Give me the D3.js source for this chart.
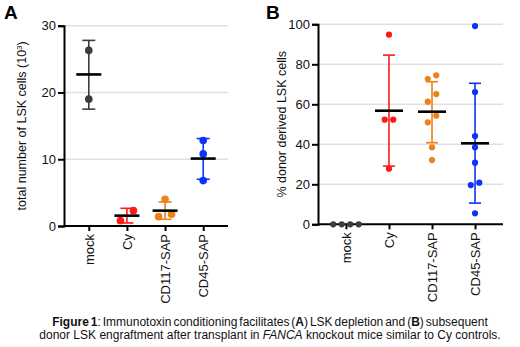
<!DOCTYPE html>
<html>
<head>
<meta charset="utf-8">
<script src="https://cdn.jsdelivr.net/npm/d3@7"></script>
<style>
  body { margin: 0; background: #fff; }
  svg { display: block; font-family: "Liberation Sans", Arial, sans-serif; }
</style>
</head>
<body>
<div id="chart"></div>
<script>
// groups on both panels
const groups = ["mock", "Cy", "CD117-SAP", "CD45-SAP"];
const colors = ["#3d3d3d", "#ff1a1a", "#ee8118", "#0d33f8"];

// panel A: total LSK cells (10^3)
const lskValues = [[26.3, 19.0], [0.8, 2.3], [1.4, 1.75, 4.0], [12.8, 10.8, 6.8]];
const lskMean = [22.7, 1.55, 2.3, 10.1];
const lskLow = [17.5, 0.45, 1.0, 7.0];
const lskHigh = [27.8, 2.65, 3.6, 13.1];
const lskTicks = [0, 10, 20, 30];

// panel B: % donor derived LSK cells
const donorValues = [
  [0, 0, 0, 0],
  [94.8, 52.3, 52.3, 27.8],
  [74.5, 72.6, 65.1, 61.3, 54.3, 51.0, 38.5, 32.1],
  [99.1, 66.1, 44.1, 38.5, 30.8, 20.8, 19.6, 5.5]
];
const donorMean = [null, 56.8, 56.3, 40.5];
const donorLow = [null, 29.1, 40.8, 10.6];
const donorHigh = [null, 84.6, 71.3, 70.5];
const donorTicks = [0, 20, 40, 60, 80, 100];

const W = 520, H = 347;
const svg = d3.select("#chart").append("svg")
  .attr("width", W).attr("height", H)
  .attr("viewBox", `0 0 ${W} ${H}`);

function drawPanel(p) {
  const g = svg.append("g");
  const x = d3.scalePoint().domain(groups).range([p.left, p.right]).padding(0.65);
  const y = d3.scaleLinear().domain([0, p.max]).range([p.bottom, p.top]);

  // grid
  g.selectAll(".grid").data(p.ticks.filter(t => t > 0)).enter().append("line")
    .attr("x1", p.left).attr("x2", p.right)
    .attr("y1", d => y(d)).attr("y2", d => y(d))
    .attr("stroke", "#e0e0e0").attr("stroke-width", 1.5);

  const yAxis = g.append("g")
    .attr("transform", `translate(${p.left},0)`)
    .call(d3.axisLeft(y).tickValues(p.ticks).tickSize(6).tickPadding(2));
  const xAxis = g.append("g")
    .attr("transform", `translate(0,${p.bottom})`)
    .call(d3.axisBottom(x).tickSize(5).tickPadding(3));
  xAxis.select(".domain").attr("d", `M${p.left},0H${p.right}`);
  [yAxis, xAxis].forEach(a => {
    a.selectAll(".domain, line").attr("stroke", "#000").attr("stroke-width", 2);
    a.selectAll("text").attr("fill", "#111").style("font-size", "13px")
      .style("font-family", "'Liberation Sans', Arial, sans-serif");
  });
  xAxis.selectAll("text")
    .attr("transform", "rotate(-90)")
    .attr("text-anchor", "end")
    .attr("x", -8).attr("y", 0).attr("dy", "0.35em");

  // y title
  g.append("text")
    .attr("transform", `translate(${p.titleX},${(p.top + p.bottom) / 2}) rotate(-90)`)
    .attr("text-anchor", "middle")
    .style("font-size", "12.5px").attr("fill", "#111")
    .html(p.title);

  // panel letter
  g.append("text").attr("x", p.letterX).attr("y", 19)
    .style("font-size", "19px").style("font-weight", "bold").text(p.letter);

  // error bars and means
  groups.forEach((grp, i) => {
    if (p.mean[i] == null) return;
    const cx = x(grp), c = colors[i];
    g.append("line").attr("x1", cx).attr("x2", cx)
      .attr("y1", y(p.low[i])).attr("y2", y(p.high[i]))
      .attr("stroke", c).attr("stroke-width", 1.6);
    [p.low[i], p.high[i]].forEach(v => {
      g.append("line").attr("x1", cx - p.cap).attr("x2", cx + p.cap)
        .attr("y1", y(v)).attr("y2", y(v))
        .attr("stroke", c).attr("stroke-width", 1.6);
    });
  });

  // points, spread in rows like a scatter dot plot
  groups.forEach((grp, i) => {
    const vals = p.values[i].slice().sort((a, b) => a - b);
    const rows = [];
    vals.forEach(v => {
      const row = rows[rows.length - 1];
      if (row && Math.abs(y(row[0]) - y(v)) < p.r * 2.8) row.push(v);
      else rows.push([v]);
    });
    const pts = [];
    rows.forEach(row => row.forEach((v, k) => {
      pts.push({ v, dx: (k - (row.length - 1) / 2) * p.spread });
    }));
    g.selectAll(null).data(pts).enter().append("circle")
      .attr("cx", d => x(grp) + d.dx)
      .attr("cy", d => y(d.v))
      .attr("r", p.r)
      .attr("fill", colors[i]);
  });

  groups.forEach((grp, i) => {
    if (p.mean[i] == null) return;
    g.append("line").attr("x1", x(grp) - p.meanW).attr("x2", x(grp) + p.meanW)
      .attr("y1", y(p.mean[i])).attr("y2", y(p.mean[i]))
      .attr("stroke", "#000").attr("stroke-width", 2.6);
  });
}

drawPanel({
  left: 64, right: 228, top: 25.7, bottom: 226, max: 30, ticks: lskTicks,
  values: lskValues, mean: lskMean, low: lskLow, high: lskHigh,
  r: 3.8, spread: 13, cap: 6.5, meanW: 12.5,
  title: "total number of LSK cells (10<tspan dy='-4' font-size='8px'>3</tspan><tspan dy='4'>)</tspan>",
  titleX: 26, letter: "A", letterX: 4
});

drawPanel({
  left: 318, right: 503, top: 24.3, bottom: 224.3, max: 100, ticks: donorTicks,
  values: donorValues, mean: donorMean, low: donorLow, high: donorHigh,
  r: 3.1, spread: 8.5, cap: 6, meanW: 14,
  title: "% donor derived LSK cells",
  titleX: 286, letter: "B", letterX: 266
});

// caption
const cap = svg.append("text").attr("text-anchor", "middle")
  .style("font-size", "12px").attr("fill", "#111");
const l1 = cap.append("tspan").attr("x", 270).attr("y", 326).style("word-spacing", "-1.4px");
l1.append("tspan").style("font-weight", "bold").text("Figure 1");
l1.append("tspan").text(": Immunotoxin conditioning facilitates (");
l1.append("tspan").style("font-weight", "bold").text("A");
l1.append("tspan").text(") LSK depletion and (");
l1.append("tspan").style("font-weight", "bold").text("B");
l1.append("tspan").text(") subsequent");
const l2 = cap.append("tspan").attr("x", 270).attr("y", 339);
l2.append("tspan").text("donor LSK engraftment after transplant in ");
l2.append("tspan").style("font-style", "italic").text("FANCA");
l2.append("tspan").text(" knockout mice similar to Cy controls.");
</script>
</body>
</html>
